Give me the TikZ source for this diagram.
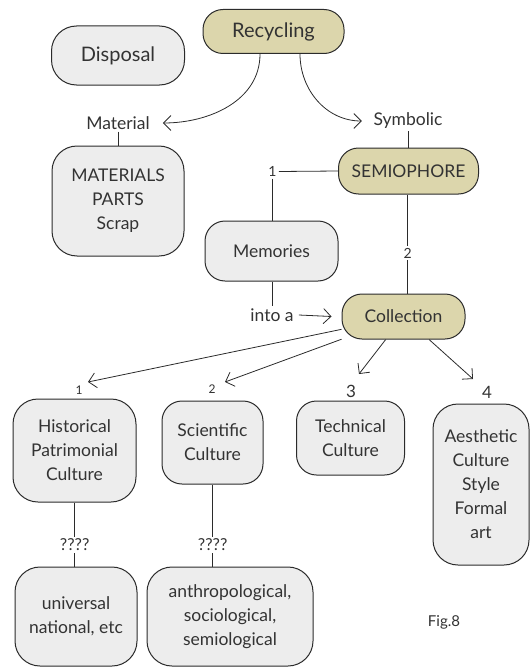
\documentclass[tikz,border=0pt]{standalone}
\usepackage{fontspec}
\setmainfont{Lato}
\usetikzlibrary{arrows.meta,calc,backgrounds}
\definecolor{boxolive}{HTML}{DCD6AC}
\definecolor{boxgray}{HTML}{EDEDED}
\definecolor{linecol}{HTML}{2B2B2B}
\definecolor{txtcol}{HTML}{333333}
\newcommand\bigfnt{\fontsize{20}{24}\selectfont}
\newcommand\midfnt{\fontsize{17.5}{24}\selectfont}
\newcommand\numfnt{\fontsize{14}{16}\selectfont}
\newcommand\tinyfnt{\fontsize{12}{14}\selectfont}
\newcommand\bignumfnt{\fontsize{17}{20}\selectfont}
\newcommand\qfnt{\fontsize{16.5}{18}\selectfont}
\newcommand\figfnt{\fontsize{15}{18}\selectfont}
\begin{document}
\begin{tikzpicture}[x=1pt,y=1pt,
  box/.style={draw=linecol, line width=1pt, fill=boxgray, rounded corners=20pt,
    align=center, text=txtcol, inner sep=0pt, font=\midfnt},
  hot/.style={box, fill=boxolive},
  lbl/.style={text=txtcol, inner sep=2pt, font=\midfnt},
  conn/.style={draw=linecol, line width=0.8pt},
  arr/.style={conn, -{Straight Barb[length=7.5pt,width=15pt]}}]
\useasboundingbox (0,0) rectangle (531,-669);

\node[hot, minimum width=141pt, minimum height=44pt, font=\bigfnt] (recycling) at (273.5,-31.5) {Recycling};
\node[box, minimum width=133pt, minimum height=59pt, font=\bigfnt, rounded corners=25pt] (disposal) at (118,-55.5) {Disposal};
\node[lbl] (material) at (118,-123) {Material};
\node[lbl] (symbolic) at (408,-121) {Symbolic};
\node[box, minimum width=132pt, minimum height=110pt, rounded corners=25pt] (materials) at (118,-201) {MATERIALS\\PARTS\\Scrap};
\node[hot, minimum width=140pt, minimum height=46pt] (semiophore) at (408.5,-171) {SEMIOPHORE};
\node[lbl, font=\numfnt] (one) at (272.5,-171.5) {1};
\node[box, minimum width=133pt, minimum height=60pt] (memories) at (271.5,-251) {Memories};
\node[lbl] (intoa) at (272,-315) {into a};
\node[hot, minimum width=123pt, minimum height=45pt] (collection) at (403.5,-316.5) {Collection};
\node[lbl, font=\numfnt] (two) at (407.7,-253) {2};
\node[lbl, font=\tinyfnt] (n1) at (79,-390) {1};
\node[lbl, font=\tinyfnt] (n2) at (212,-389) {2};
\node[lbl, font=\bignumfnt] (n3) at (351,-391.5) {3};
\node[lbl, font=\bignumfnt] (n4) at (487,-392) {4};
\node[box, minimum width=123pt, minimum height=103pt, rounded corners=25pt] (historical) at (74.5,-450.5) {Historical\\Patrimonial\\Culture};
\node[box, minimum width=101pt, minimum height=83pt] (scientific) at (212.5,-442.5) {Scientific\\Culture};
\node[box, minimum width=108pt, minimum height=74pt] (technical) at (350.5,-438) {Technical\\Culture};
\node[box, minimum width=96pt, minimum height=161pt, rounded corners=25pt] (aesthetic) at (481,-484.5) {Aesthetic\\Culture\\Style\\Formal\\art};
\node[lbl, font=\qfnt] (q1) at (74.7,-545) {????};
\node[lbl, font=\qfnt] (q2) at (212.7,-545) {????};
\node[box, minimum width=122pt, minimum height=99pt, rounded corners=25pt] (universal) at (76,-616.5) {universal\\national, etc};
\node[box, minimum width=166pt, minimum height=99pt, rounded corners=25pt] (anthro) at (230,-616.5) {anthropological,\\sociological,\\semiological};
\node[lbl, font=\figfnt] (fig) at (444,-622) {Fig.8};

\begin{pgfonlayer}{background}
\draw[arr] ([xshift=-13.5pt]recycling.south) to[out=-90,in=0] ([xshift=11pt]material.east);
\draw[arr] ([xshift=26.5pt]recycling.south) to[out=-90,in=180] ([xshift=-9.5pt]symbolic.west);
\draw[conn] (material.south) -- (material.south |- materials.north);
\draw[conn] (symbolic.south) -- (symbolic.south |- semiophore.north);
\draw[conn] (semiophore.west) -- (one.east);
\draw[conn] (one.south) -- (one.south |- memories.north);
\draw[conn] (memories.south -| intoa) -- (intoa.north);
\draw[arr] ([xshift=3pt]intoa.east) -- ([xshift=-10pt]collection.west);
\draw[conn] (semiophore.south -| two) -- (two.north);
\draw[conn] (two.south) -- (two.south |- collection.north);
\draw[arr] (collection) -- ([shift={(9pt,8pt)}]n1.center);
\draw[arr] (collection) -- ([shift={(13pt,7pt)}]n2.center);
\draw[arr] (collection) -- ([shift={(8pt,17.5pt)}]n3.center);
\draw[arr] (collection) -- ([shift={(-14pt,13pt)}]n4.center);
\draw[conn] (historical.south -| q1) -- (q1.north);
\draw[conn] (q1.south) -- (q1.south |- universal.north);
\draw[conn] (scientific.south -| q2) -- (q2.north);
\draw[conn] (q2.south) -- (q2.south |- anthro.north);
\end{pgfonlayer}
\end{tikzpicture}
\end{document}
